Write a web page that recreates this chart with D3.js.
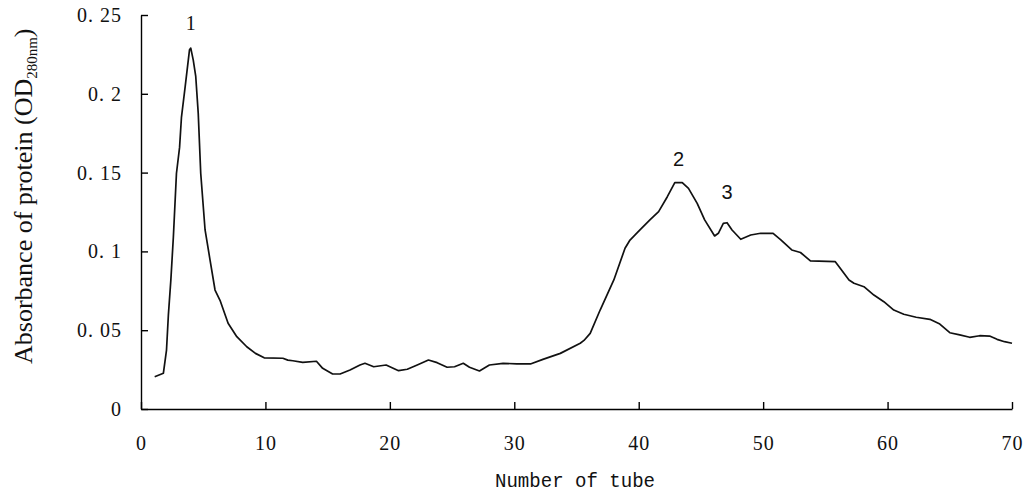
<!DOCTYPE html>
<html>
<head>
<meta charset="utf-8">
<script src="https://cdn.jsdelivr.net/npm/d3@7"></script>
<style>
  html, body { margin: 0; padding: 0; background: #fff; }
  svg { display: block; }
</style>
</head>
<body>
<svg id="chart" width="1026" height="493"></svg>
<script>
// ---- data ----
const tube = [
  1.1, 1.8, 2.05, 2.2, 2.4, 2.6, 2.85, 3.1, 3.25, 3.55,
  3.9, 4.0, 4.2, 4.4, 4.6, 4.8, 5.15, 5.55, 5.95, 6.35,
  7.0, 7.7, 8.5, 9.2, 9.9, 11.4, 11.8, 12.2, 13.0, 14.1,
  14.6, 15.4, 16.0, 16.8, 17.6, 18.0, 18.7, 19.7, 20.7, 21.4,
  22.2, 23.1, 23.8, 24.6, 25.2, 25.9, 26.4, 27.2, 28.0, 29.1,
  30.2, 31.3, 32.3, 33.7, 35.3, 35.6, 36.1, 36.9, 38.0, 38.9,
  39.3, 40.1, 40.9, 41.6, 42.3, 42.9, 43.5, 44.0, 44.7, 45.3,
  46.1, 46.4, 46.8, 47.1, 47.5, 48.2, 49.0, 49.8, 50.8, 51.4,
  52.3, 53.0, 53.8, 55.8, 56.3, 56.9, 57.3, 58.1, 58.9, 59.7,
  60.5, 61.3, 62.3, 63.4, 64.2, 65.0, 65.8, 66.6, 67.4, 68.2,
  68.8, 69.4, 70.0
];
const absorbance = [
  0.0205, 0.0227, 0.0374, 0.0596, 0.0819, 0.109, 0.1496, 0.166, 0.185, 0.2045,
  0.228, 0.229, 0.2214, 0.211, 0.1876, 0.1496, 0.1136, 0.0945, 0.0755, 0.069,
  0.0544, 0.0459, 0.0395, 0.0353, 0.0325, 0.0322, 0.031, 0.0306, 0.0296, 0.0303,
  0.0258, 0.0222, 0.0222, 0.0247, 0.0279, 0.029, 0.0268, 0.0279, 0.0243, 0.0252,
  0.0279, 0.0311, 0.0294, 0.0265, 0.0268, 0.029, 0.0265, 0.0241, 0.0279, 0.029,
  0.0286, 0.0286, 0.0315, 0.0353, 0.0417, 0.0435, 0.048, 0.0628, 0.0819, 0.102,
  0.1072, 0.1136, 0.12, 0.1252, 0.1347, 0.1436, 0.1436, 0.14, 0.1305, 0.12,
  0.1098, 0.1115, 0.1178, 0.1182, 0.1136, 0.1077, 0.1104, 0.1115, 0.1115, 0.1075,
  0.1009, 0.0993, 0.094, 0.0935, 0.0882, 0.0819, 0.0798, 0.0776, 0.0723, 0.0681,
  0.0628, 0.0601, 0.0582, 0.0569, 0.0539, 0.0484, 0.047, 0.0455, 0.0465, 0.0463,
  0.0442, 0.0427, 0.0417
];
const xTicks = [0, 10, 20, 30, 40, 50, 60, 70];
const yTicks = [0, 0.05, 0.1, 0.15, 0.2, 0.25];
const yTickLabels = ["0", "0. 05", "0. 1", "0. 15", "0. 2", "0. 25"];
const peakLabels = ["1", "2", "3"];
const peakTube = [4.0, 43.2, 47.1];
const peakValue = [0.229, 0.1436, 0.1182];

// ---- layout ----
const svg = d3.select("#chart");
const mLeft = 141, mRight = 1012, mTop = 15, mBottom = 409;

const x = d3.scaleLinear().domain([0, 70]).range([mLeft, mRight]);
const y = d3.scaleLinear().domain([0, 0.25]).range([mBottom, mTop]);

const tickFont = "'Liberation Serif', 'Times New Roman', serif";

// x axis
const xAxis = svg.append("g")
  .attr("transform", `translate(0,${mBottom})`)
  .call(d3.axisBottom(x).tickValues(xTicks).tickSizeInner(-7).tickSizeOuter(0).tickPadding(27).tickFormat(d3.format("d")));
xAxis.select(".domain").attr("stroke", "#000").attr("stroke-width", 1.4);
xAxis.selectAll(".tick line").attr("stroke", "#000").attr("stroke-width", 1.4);
xAxis.selectAll(".tick text")
  .attr("font-family", tickFont).attr("font-size", 20).attr("fill", "#111")
  .attr("letter-spacing", 1);

// y axis
const yAxis = svg.append("g")
  .attr("transform", `translate(${mLeft},0)`)
  .call(d3.axisLeft(y).tickValues(yTicks).tickSizeInner(-7).tickSizeOuter(0).tickPadding(19)
    .tickFormat((d, i) => yTickLabels[i]));
yAxis.select(".domain").attr("stroke", "#000").attr("stroke-width", 1.4);
yAxis.selectAll(".tick text")
  .attr("font-family", tickFont).attr("font-size", 20).attr("fill", "#111")
  .attr("letter-spacing", 1)
  .style("white-space", "pre");
yAxis.selectAll(".tick line").attr("stroke", "#000").attr("stroke-width", 1.4);

// curve
const pts = tube.map((t, i) => [t, absorbance[i]]);
svg.append("path")
  .datum(pts)
  .attr("d", d3.line().x(d => x(d[0])).y(d => y(d[1])))
  .attr("fill", "none")
  .attr("stroke", "#111")
  .attr("stroke-width", 1.7)
  .attr("stroke-linejoin", "round");

// peak labels
const peakOffset = [18, 17, 24];
const peakFont = ["'Liberation Serif', serif", "'Liberation Sans', sans-serif", "'Liberation Sans', sans-serif"];
svg.selectAll(".peak")
  .data(peakLabels)
  .enter().append("text")
  .attr("class", "peak")
  .attr("x", (d, i) => x(peakTube[i]))
  .attr("y", (d, i) => y(peakValue[i]) - peakOffset[i])
  .attr("text-anchor", "middle")
  .attr("font-family", (d, i) => peakFont[i])
  .attr("font-size", 20)
  .attr("fill", "#111")
  .text(d => d);

// x title
svg.append("text")
  .attr("x", 495).attr("y", 487)
  .attr("font-family", "'Liberation Mono', monospace")
  .attr("font-size", 21)
  .attr("textLength", 160)
  .attr("lengthAdjust", "spacingAndGlyphs")
  .attr("fill", "#111")
  .text("Number of tube");

// y title (rotated)
const yt = svg.append("text")
  .attr("transform", "translate(32,364) rotate(-90)")
  .attr("font-family", "'Liberation Serif', 'Times New Roman', serif")
  .attr("font-size", 26)
  .attr("fill", "#111");
yt.append("tspan").text("Absorbance of protein (OD");
yt.append("tspan").attr("font-size", 15).attr("dy", 5).text("280nm");
yt.append("tspan").attr("dy", -5).text(")");
</script>
</body>
</html>
